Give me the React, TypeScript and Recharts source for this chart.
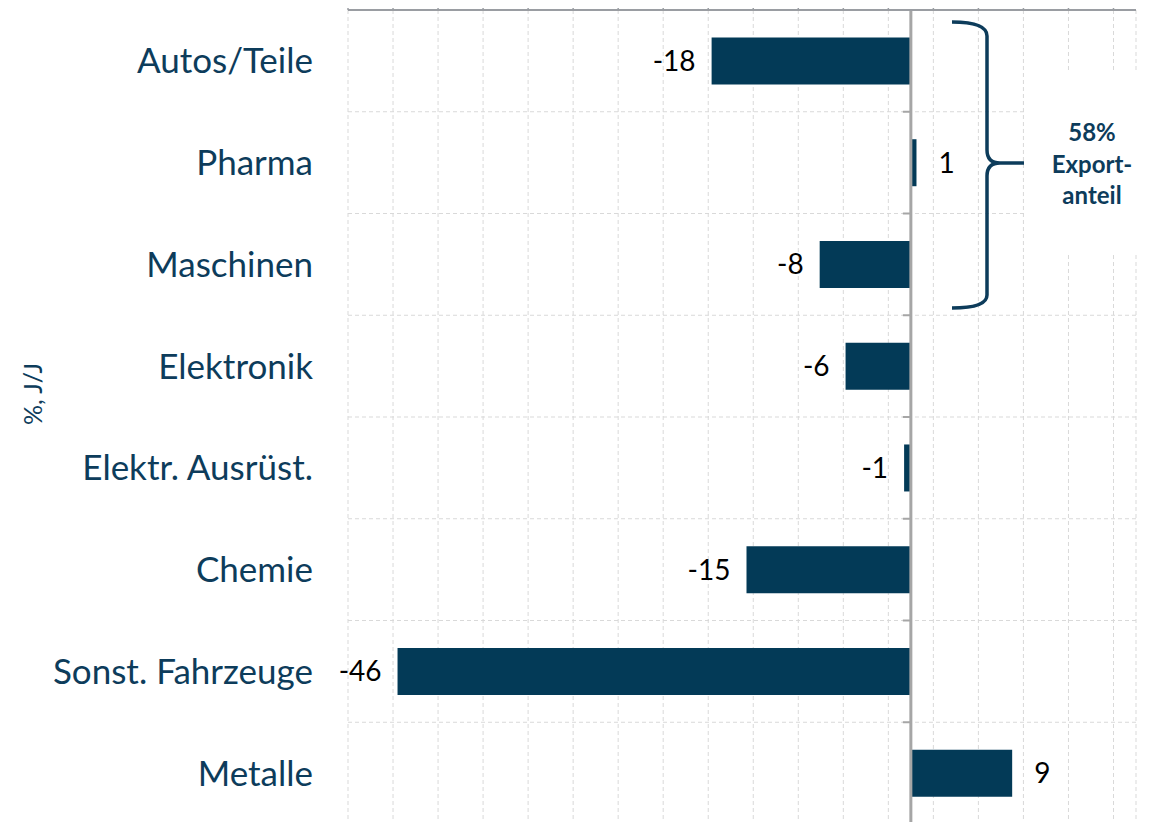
import React from "react";
import { Bar, BarChart, CartesianGrid, LabelList, ReferenceLine, XAxis, YAxis } from "recharts";

// Branchen, Veränderung in %, J/J
const categories = [
  "Autos/Teile",
  "Pharma",
  "Maschinen",
  "Elektronik",
  "Elektr. Ausrüst.",
  "Chemie",
  "Sonst. Fahrzeuge",
  "Metalle",
];
const values = [-17.7, 0.5, -8.1, -5.8, -0.6, -14.6, -45.6, 9.0];
const xTicks = [-50, -46, -42, -38, -34, -30, -26, -22, -18, -14, -10, -6, -2, 2, 6, 10, 14, 18];
const xDomain = [-50, 20];

const TEAL = "#0d3c5b";
const BAR = "#033a57";
const GRID = "#d9d9d9";
const AXIS = "#a6a6a6";
const FONT = "Lato, 'Open Sans', sans-serif";

// layout (page coords, svg sits at 0,0)
const W = 1155;
const H = 838;
const M = { top: 9, right: 19, bottom: 14, left: 0 };
const X_H = 1;
const Y_W = 348;
const plotTop = M.top + X_H;
const plotH = H - plotTop - M.bottom;
const plotLeft = M.left + Y_W;
const plotW = W - plotLeft - M.right;

const data = categories.map((name, i) => ({ name, value: values[i] }));
const bands = categories.map((_, i) => plotTop + (i * plotH) / categories.length);
const zeroX = plotLeft + ((0 - xDomain[0]) / (xDomain[1] - xDomain[0])) * plotW;

function ValueLabel(props: any) {
  const { x, y, width, height, value } = props;
  const left = Math.min(x, x + width);
  const right = Math.max(x, x + width);
  const cy = y + height / 2;
  const neg = value < 0;
  return (
    <text
      x={neg ? left - 16 : right + 22}
      y={cy}
      dy="0.35em"
      textAnchor={neg ? "end" : "start"}
      fontSize={28}
      fontFamily={FONT}
      fill="#000"
    >
      {Math.round(value)}
    </text>
  );
}

export default function App() {
  return (
    <div style={{ position: "relative", margin: "-8px 0 0 -8px", width: W, height: 822, overflow: "hidden" }}>
      <BarChart
        width={W}
        height={H}
        data={data}
        layout="vertical"
        margin={M}
        barCategoryGap="27%"
      >
        <CartesianGrid
          strokeDasharray="4 3"
          stroke={GRID}
          horizontalPoints={bands.slice(1)}
        />
        <XAxis
          type="number"
          orientation="top"
          domain={xDomain}
          ticks={xTicks}
          allowDataOverflow
          height={X_H}
          tickSize={5}
          tickFormatter={() => ""}
          axisLine={{ stroke: "#9a9da2", strokeWidth: 2 }}
          tickLine={{ stroke: "#9a9da2", strokeWidth: 1.5 }}
        />
        <YAxis
          type="category"
          dataKey="name"
          width={Y_W}
          axisLine={false}
          tickLine={false}
          tickSize={0}
          tickMargin={35}
          interval={0}
          tick={{ fontSize: 35, fill: TEAL, fontFamily: FONT }}
        />
        <Bar dataKey="value" fill={BAR} isAnimationActive={false}>
          <LabelList dataKey="value" content={ValueLabel} />
        </Bar>
        <ReferenceLine x={0} stroke={AXIS} strokeWidth={3} />
      </BarChart>
      <svg
        width={W}
        height={822}
        style={{ position: "absolute", left: 0, top: 0, pointerEvents: "none" }}
      >
        {/* ticks on the zero line */}
        {bands.slice(1).map((b) => (
          <line key={b} x1={zeroX - 8} x2={zeroX} y1={b} y2={b} stroke={AXIS} strokeWidth={2} />
        ))}
        <text
          transform="translate(42,394) rotate(-90)"
          textAnchor="middle"
          fontSize={25}
          fontFamily={FONT}
          fill={TEAL}
        >
          %, J/J
        </text>
        <rect x={1027} y={72} width={128} height={183} fill="#fff" />
        <path
          d="M952,22 Q987,22 987,36 L987,150 Q987,163 1000,163 L1024,163 M1000,163 Q987,163 987,176 L987,295 Q987,308 952,308"
          fill="none"
          stroke={TEAL}
          strokeWidth={3.5}
        />
        <text textAnchor="middle" fontSize={24} fontWeight="bold" fontFamily={FONT} fill={TEAL}>
          <tspan x={1092} y={141}>58%</tspan>
          <tspan x={1092} y={173}>Export-</tspan>
          <tspan x={1092} y={204}>anteil</tspan>
        </text>
      </svg>
    </div>
  );
}
